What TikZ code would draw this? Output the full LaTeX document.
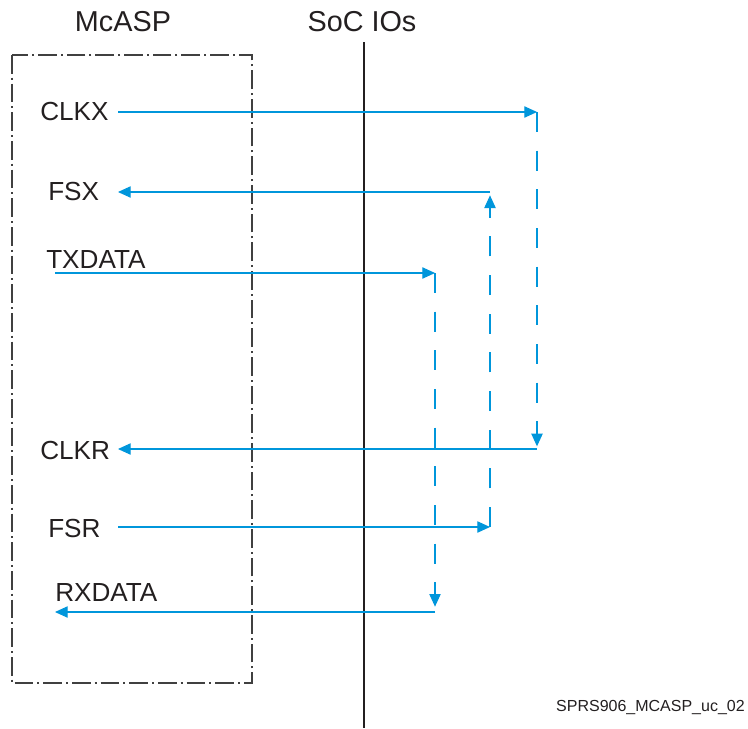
\documentclass[tikz,border=0pt]{standalone}
\usepackage{fontspec}
\setmainfont{Liberation Sans}
\usetikzlibrary{arrows.meta}
\definecolor{sigblue}{RGB}{0,150,219}
\definecolor{txtgray}{RGB}{35,31,32}
\tikzset{
  sig/.style={draw=sigblue, line width=0.8pt, -{Triangle[length=9.5pt,width=8.5pt]}},
  loopback/.style={sig, dash pattern=on 15pt off 14pt},
  lbl/.style={font=\fontsize{19.6}{22}\selectfont, text=txtgray, inner sep=0pt},
  title/.style={font=\fontsize{21.6}{24}\selectfont, text=txtgray, inner sep=0pt},
}
\begin{document}
\begin{tikzpicture}[x=0.75pt,y=-0.75pt]
\useasboundingbox (0,0) rectangle (748,728);
% McASP block and SoC pad boundary
\draw [line width=0.8pt, black!75, dash pattern=on 14pt off 3pt on 1.5pt off 3pt] (12,55) rectangle (252,683);
\node [title] (mcasp) at (123,22) {McASP};
\node [title] (soc) at (362,22) {SoC IOs};
\coordinate (soctop) at (364,42);
\coordinate (socbot) at (364,728);
\draw [line width=1.5pt, txtgray] (soctop) -- (socbot);

% signal names
\node [lbl, anchor=west] (clkx) at (40,112) {CLKX};
\node [lbl, anchor=west] (fsx) at (48,191) {FSX};
\node [lbl, anchor=west] (txdata) at (46,260) {TXDATA};
\node [lbl, anchor=west] (clkr) at (40,450) {CLKR};
\node [lbl, anchor=west] (fsr) at (48,528) {FSR};
\node [lbl, anchor=west] (rxdata) at (55,592) {RXDATA};

% line ends
\coordinate (clkxin) at (118,112);
\coordinate (clkxio) at (537,112);
\coordinate (fsxin) at (118,192);
\coordinate (fsxio) at (490,192);
\coordinate (txin) at (55,273);
\coordinate (txio) at (435,273);
\coordinate (clkrin) at (118,449);
\coordinate (clkrio) at (537,449);
\coordinate (fsrin) at (118,527);
\coordinate (fsrio) at (490,527);
\coordinate (rxin) at (55,612);
\coordinate (rxio) at (435,612);

% transmit / receive paths
\draw [sig] (clkxin) -- (clkxio);
\draw [sig] (fsxio) -- (fsxin);
\draw [sig] (txin) -- (txio);
\draw [sig] (clkrio) -- (clkrin);
\draw [sig] (fsrin) -- (fsrio);
\draw [sig] (rxio) -- (rxin);

% loopback at the pads
\draw [loopback, shorten >=2pt] (clkxio) -- (clkrio);
\draw [loopback, shorten >=2.5pt] (fsrio) -- (fsxio);
\draw [loopback, shorten >=4pt] (txio) -- (rxio);

\node [font=\fontsize{12}{14}\selectfont, text=txtgray, inner sep=0pt, anchor=east] (figid) at (745,707) {SPRS906\_MCASP\_uc\_02};
\end{tikzpicture}
\end{document}
